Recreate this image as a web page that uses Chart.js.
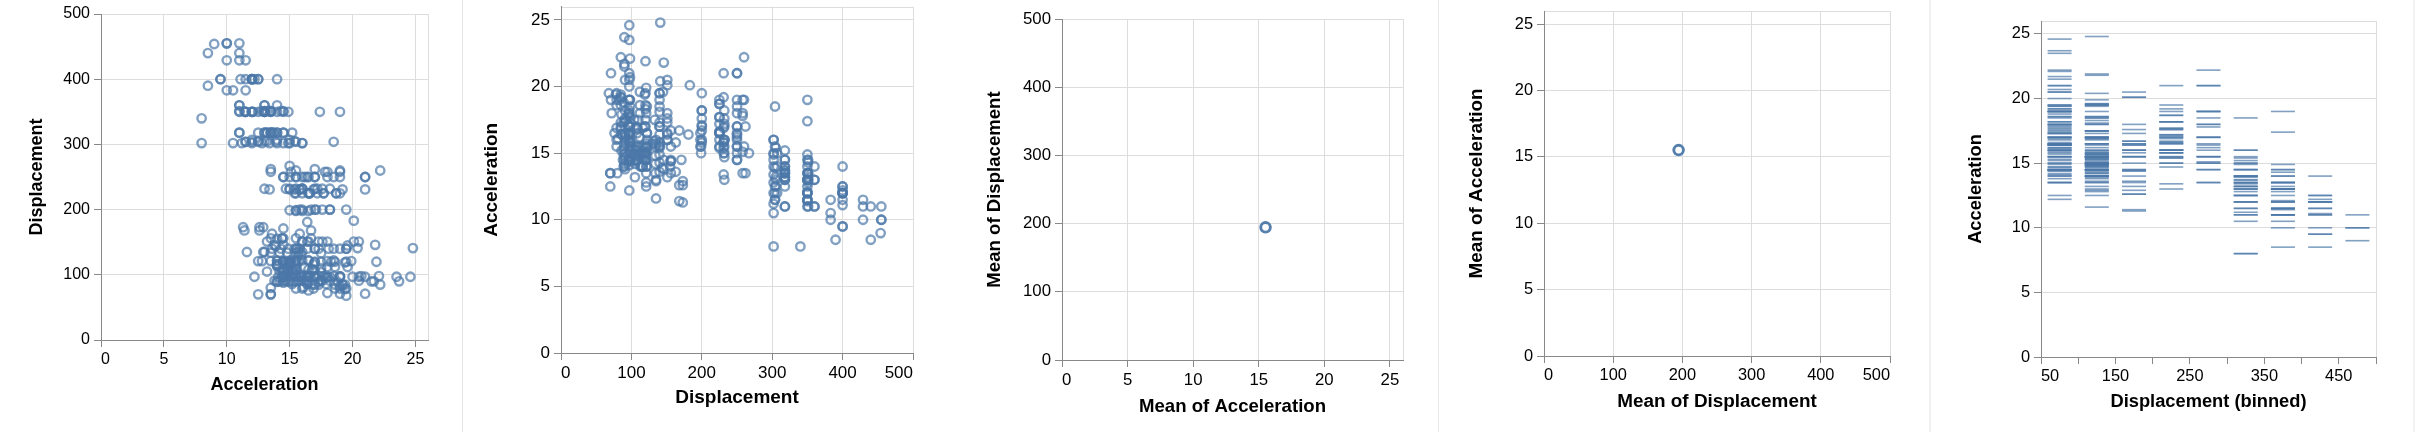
<!DOCTYPE html>
<html>
<head>
<meta charset="utf-8">
<script src="https://cdn.jsdelivr.net/npm/chart.js@4.4.1/dist/chart.umd.min.js"></script>
<style>
  body { margin: 0; background: #fff; width: 2420px; height: 432px; overflow: hidden; position: relative; }
  canvas { position: absolute; top: 0; }
  .sep { position: absolute; top: 0; height: 432px; }
</style>
</head>
<body>
<div class="sep" style="left:462px;width:1px;background:#e5e5e5"></div>
<div class="sep" style="left:1438px;width:1px;background:#e8e8e8"></div>
<div class="sep" style="left:1929px;width:2px;background:#f0f0f0"></div>
<div class="sep" style="left:2413px;width:2px;background:#f2f2f2"></div>
<canvas id="c1"></canvas>
<canvas id="c2"></canvas>
<canvas id="c3"></canvas>
<canvas id="c4"></canvas>
<canvas id="c5"></canvas>
<script>
// cars: displacement / acceleration, one entry per car
const displacement = [
  307,350,318,304,302,429,454,440,455,390,
  133,350,351,383,360,383,340,302,400,455,
  113,198,199,200,97,97,110,107,104,121,
  199,360,307,318,304,97,140,113,98,97,
  232,225,250,250,232,350,400,351,318,383,
  400,400,258,140,250,250,122,116,79,88,
  71,72,97,91,113,97.5,97,140,122,350,
  400,318,351,304,429,350,350,400,70,304,
  307,302,318,121,121,120,96,122,97,120,
  98,97,350,304,350,302,318,429,400,351,
  318,440,455,360,225,250,232,250,198,97,
  400,400,360,350,232,97,140,108,70,122,
  155,98,350,400,68,116,114,121,318,121,
  156,350,198,200,232,250,79,122,71,140,
  250,258,225,302,350,318,302,304,98,79,
  97,76,83,90,90,116,120,108,79,225,
  250,250,200,350,350,318,351,231,250,258,
  225,231,262,302,97,140,232,140,134,90,
  119,171,90,232,115,120,121,121,91,107,
  116,140,98,101,305,318,304,351,225,250,
  200,232,85,98,90,91,225,250,250,258,
  97,85,97,140,130,318,120,156,168,350,
  350,302,318,98,111,79,122,85,305,260,
  318,302,250,231,225,250,400,350,400,351,
  97,151,97,140,98,98,97,97,146,121,
  80,90,98,78,85,91,260,318,302,231,
  200,200,140,225,232,231,200,225,258,305,
  231,302,318,98,134,119,105,134,156,151,
  119,131,163,121,163,89,98,231,200,140,
  232,225,305,302,351,318,350,351,267,360,
  89,86,98,121,183,350,141,260,105,105,
  85,91,151,173,173,151,98,89,98,86,
  151,140,151,225,97,134,120,119,108,86,
  156,85,90,90,121,146,91,85,97,89,
  168,70,122,140,107,135,151,156,173,135,
  79,86,81,97,85,89,91,105,98,98,
  105,100,107,108,119,120,141,121,145,168,
  146,231,350,200,225,112,112,112,112,135,
  151,140,151,105,91,91,105,98,120,107,
  108,91,91,91,181,262,156,232,144,135,
  151,140,97,135,120,119
];
const acceleration = [
  12,11.5,11,12,10.5,10,9,8.5,10,8.5,
  17.5,11.5,11,10.5,11,10,8,8,9.5,10,
  15,15.5,15.5,16,14.5,20.5,17.5,14.5,17.5,12.5,
  15,14,15,13.5,18.5,14.5,15.5,14,19,20,
  13,15.5,15.5,15.5,15.5,12,11.5,13.5,13,11.5,
  12,12,13.5,19,15,14.5,14,14,19.5,14.5,
  19,18,19,20.5,15.5,17,23.5,19.5,16.5,12,
  12,13.5,13,11.5,11,13.5,13.5,12.5,13.5,12.5,
  14,16,14,14.5,18,19.5,18,16,17,14.5,
  15,16.5,13,11.5,13,14.5,12.5,11.5,12,13,
  14.5,11,11,11,16.5,18,16,16.5,16,21,
  14,12.5,13,12.5,15,19,19.5,16.5,13.5,18.5,
  14,15.5,13,9.5,19.5,15.5,14,15.5,11,14,
  13.5,11,16.5,17,16,17,19,16.5,21,17,
  17,18,16.5,14,14.5,13.5,16,15.5,16.5,15.5,
  14.5,16.5,19,14.5,15.5,14,15,15.5,16,16,
  16,21,19.5,11.5,14,14.5,13.5,21,18.5,19,
  19,15,13.5,12,16,17,16,18.5,13.5,16.5,
  17,14.5,14,17,15,17,14.5,13.5,17.5,15.5,
  16.9,14.9,17.7,15.3,13,13,13.9,12.8,15.4,14.5,
  17.6,17.6,22.2,22.1,14.2,17.4,17.7,21,16.2,17.8,
  12.2,17,16.4,13.6,15.7,13.2,21.9,15.5,16.7,12.1,
  12,15,14,18.5,14.8,18.6,15.5,16.8,12.5,19,
  13.7,14.9,16.4,16.9,17.7,19,11.1,11.4,12.2,14.5,
  14.5,16,18.2,15.8,17,15.9,16.4,14.1,14.5,12.8,
  13.5,21.5,14.4,19.4,18.6,16.4,15.5,13.2,12.8,19.2,
  18.2,15.8,15.4,17.2,17.2,15.8,16.7,18.7,15.1,13.2,
  13.4,11.2,13.7,16.5,14.2,14.7,14.5,14.8,16.7,17.6,
  14.9,15.9,13.6,15.7,15.8,14.9,16.6,15.4,18.2,17.3,
  18.2,16.6,15.4,13.4,13.2,15.2,14.9,14.3,15,13,
  14,15.2,14.4,15,20.1,17.4,24.8,22.2,13.2,14.9,
  19.2,14.7,16,11.3,12.9,13.2,14.7,18.8,15.5,16.4,
  16.5,18.1,20.1,18.7,15.8,15.5,17.5,15,15.2,17.9,
  14.4,19.2,21.7,23.7,19.9,21.8,13.8,17.3,18,15.3,
  11.4,12.5,15.1,14.3,17,15.7,16.4,14.4,12.6,12.9,
  16.9,16.4,16.1,17.8,19.4,17.3,16,14.9,16.2,20.7,
  14.2,15.8,14.4,16.8,14.8,18.3,20.4,15.4,19.6,12.6,
  13.8,15.8,19,17.1,16.6,19.6,18.6,18,16.2,16,
  18,16.4,20.5,15.3,18.2,17.6,14.7,17.3,14.5,14.5,
  16.9,15,15.7,16.2,16.4,17,14.5,14.7,13.9,13,
  17.3,15.6,24.6,11.6,18.6,19.4
];

const accelDomain = [0, 26];
const dispDomain = [0, 500];
const binDomain = [50, 500];
const binStep = 50;

const BLUE = 'rgba(76,120,168,0.7)';
const FONT = '"Liberation Sans", Arial, Helvetica, sans-serif';

const mean = arr => arr.reduce((s, v) => s + v, 0) / arr.length;
const meanAcc = mean(acceleration);
const meanDisp = mean(displacement);

// draws the light frame round the plot area (vega's view stroke)
const frame = {
  id: 'frame',
  beforeDraw(chart) {
    const a = chart.chartArea, ctx = chart.ctx;
    ctx.save();
    ctx.strokeStyle = '#ddd';
    ctx.lineWidth = 1;
    ctx.strokeRect(Math.round(a.left) + 0.5, Math.round(a.top) + 0.5,
                   Math.round(a.right - a.left), Math.round(a.bottom - a.top));
    ctx.restore();
  }
};

function axis(o) {
  const horiz = o.dir === 'x';
  return {
    type: 'linear',
    position: horiz ? 'bottom' : 'left',
    min: o.domain[0],
    max: o.domain[1],
    grid: { color: '#ddd', tickColor: '#888', tickLength: 7, drawOnChartArea: o.grid !== false },
    border: { color: '#888', width: 1 },
    ticks: {
      stepSize: o.step,
      includeBounds: false,
      autoSkip: false,
      maxRotation: 0,
      padding: horiz ? 3 : 4,
      align: o.align || 'center',
      color: '#000',
      font: { family: FONT, size: o.tick },
      callback: o.label || (v => String(v))
    },
    title: {
      display: true,
      text: o.title,
      color: '#000',
      font: { family: FONT, size: o.titleSize, weight: 'bold' },
      padding: horiz ? { top: 0, bottom: o.tpad } : { top: o.tpad, bottom: 0 }
    },
    afterFit(s) {
      if (horiz) { s.height = o.size; s.paddingLeft = 0; s.paddingRight = 0; }
      else { s.width = o.size; s.paddingTop = 0; s.paddingBottom = 0; }
    }
  };
}

function panel(id, p, datasets, xAxis, yAxis) {
  const cv = document.getElementById(id);
  cv.style.left = p.left + 'px';
  cv.width = p.width;
  cv.height = 432;
  return new Chart(cv, {
    type: 'scatter',
    data: { datasets },
    options: {
      responsive: false,
      animation: false,
      devicePixelRatio: 1,
      events: [],
      layout: { padding: { left: 0, top: p.top, right: p.right, bottom: 0 } },
      plugins: { legend: { display: false }, tooltip: { enabled: false } },
      scales: { x: xAxis, y: yAxis }
    },
    plugins: [frame]
  });
}

const ring = (data, r, w, c) => ({
  data, pointStyle: 'circle', pointRadius: r, borderWidth: w,
  borderColor: c, backgroundColor: 'rgba(0,0,0,0)', pointHoverRadius: r
});

const flushFirst = (v, i) => i === 0 ? '\u2007'.repeat(String(v).length) + v : String(v);

// 1: Displacement vs Acceleration
panel('c1', { left: 0, width: 462, top: 14, right: 34 },
  [ring(acceleration.map((a, i) => ({ x: a, y: displacement[i] })), 4.2, 2.4, BLUE)],
  axis({ dir: 'x', domain: accelDomain, step: 5, tick: 16, title: 'Acceleration', titleSize: 18, tpad: 35.7, size: 92, label: flushFirst }),
  axis({ dir: 'y', domain: dispDomain, step: 100, tick: 16, title: 'Displacement', titleSize: 18, tpad: 25.9, size: 101 }));

// 2: Acceleration vs Displacement
panel('c2', { left: 463, width: 482, top: 1, right: 32 },
  [ring(displacement.map((d, i) => ({ x: d, y: acceleration[i] })), 4.2, 2.4, BLUE)],
  axis({ dir: 'x', domain: dispDomain, step: 100, tick: 17, title: 'Displacement', titleSize: 19, tpad: 22.6, size: 79, align: 'inner' }),
  axis({ dir: 'y', domain: accelDomain, step: 5, tick: 17, title: 'Acceleration', titleSize: 19, tpad: 17.6, size: 98 }));

// 3: mean displacement vs mean acceleration
panel('c3', { left: 945, width: 483, top: 19, right: 25 },
  [ring([{ x: meanAcc, y: meanDisp }], 4.8, 2.9, 'rgba(76,120,168,0.95)')],
  axis({ dir: 'x', domain: accelDomain, step: 5, tick: 16.8, title: 'Mean of Acceleration', titleSize: 18.6, tpad: 13.6, size: 72, label: flushFirst }),
  axis({ dir: 'y', domain: dispDomain, step: 100, tick: 16.8, title: 'Mean of Displacement', titleSize: 18.6, tpad: 38.3, size: 117 }));

// 4: mean acceleration vs mean displacement
panel('c4', { left: 1439, width: 489, top: 11, right: 38 },
  [ring([{ x: meanDisp, y: meanAcc }], 4.8, 2.9, 'rgba(76,120,168,0.95)')],
  axis({ dir: 'x', domain: dispDomain, step: 100, tick: 16.4, title: 'Mean of Displacement', titleSize: 18.9, tpad: 19.2, size: 76, align: 'inner' }),
  axis({ dir: 'y', domain: accelDomain, step: 5, tick: 16.4, title: 'Mean of Acceleration', titleSize: 18.9, tpad: 26.7, size: 105 }));

// 5: acceleration ticks per displacement bin
panel('c5', { left: 1930, width: 482, top: 21, right: 36 },
  [{
    data: displacement.map((d, i) => ({ x: Math.floor(d / binStep) * binStep + binStep / 2, y: acceleration[i] })),
    pointStyle: 'line', pointRadius: 12, borderWidth: 1.6, borderColor: BLUE, pointHoverRadius: 12
  }],
  axis({ dir: 'x', domain: binDomain, step: binStep, tick: 16.4, title: 'Displacement (binned)', titleSize: 18.3, tpad: 19.1, size: 75, align: 'inner', grid: false,
         label: v => (v % 100 === 50 ? String(v) : '') }),
  axis({ dir: 'y', domain: accelDomain, step: 5, tick: 16.4, title: 'Acceleration', titleSize: 18.3, tpad: 34.5, size: 111 }));
</script>
</body>
</html>
